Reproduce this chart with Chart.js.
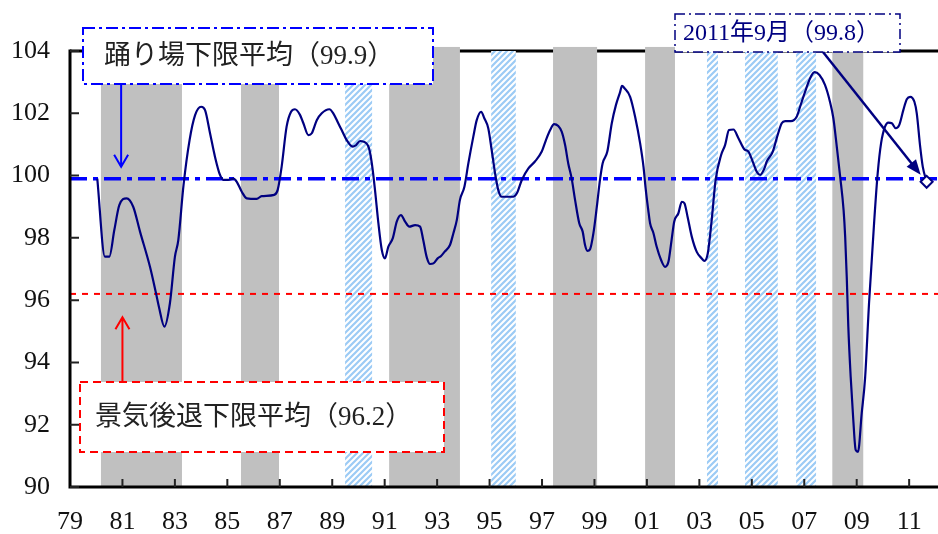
<!DOCTYPE html>
<html>
<head>
<meta charset="utf-8">
<script src="https://cdn.jsdelivr.net/npm/chart.js@4"></script>
<style>
  html, body { margin: 0; padding: 0; background: #fff; }
</style>
</head>
<body>
<canvas id="chart" width="938" height="534"></canvas>
<script>
// Composite index (CI), decimal year -> value
const dates = [
  1980.04, 1980.33, 1980.5, 1980.69, 1980.88, 1981.16, 1981.41, 1981.67, 1982.05, 1982.28,
  1982.39, 1982.6, 1982.81, 1983.0, 1983.13, 1983.33, 1983.56, 1983.77, 1984.0, 1984.15,
  1984.34, 1984.53, 1984.72, 1984.85, 1985.04, 1985.23, 1985.36, 1985.55, 1985.74, 1986.12,
  1986.31, 1986.79, 1986.92, 1987.07, 1987.26, 1987.43, 1987.58, 1987.77, 1987.9, 1988.09,
  1988.22, 1988.41, 1988.6, 1988.89, 1989.04, 1989.23, 1989.36, 1989.55, 1989.78, 1989.91,
  1990.06, 1990.19, 1990.4, 1990.51, 1990.63, 1990.76, 1990.89, 1991.01, 1991.14, 1991.31,
  1991.46, 1991.62, 1991.78, 1991.94, 1992.16, 1992.35, 1992.47, 1992.6, 1992.73, 1992.86,
  1993.02, 1993.15, 1993.28, 1993.49, 1993.62, 1993.75, 1993.87, 1994.04, 1994.19, 1994.38,
  1994.51, 1994.68, 1994.8, 1994.95, 1995.08, 1995.21, 1995.33, 1995.46, 1995.9, 1996.04,
  1996.23, 1996.48, 1996.73, 1996.99, 1997.15, 1997.31, 1997.46, 1997.62, 1997.75, 1997.88,
  1998.0, 1998.13, 1998.26, 1998.42, 1998.55, 1998.64, 1998.73, 1998.83, 1998.96, 1999.09,
  1999.21, 1999.31, 1999.49, 1999.66, 1999.82, 1999.98, 2000.05, 2000.15, 2000.36, 2000.55,
  2000.74, 2000.87, 2000.95, 2001.05, 2001.12, 2001.25, 2001.37, 2001.54, 2001.69, 2001.82,
  2001.94, 2002.04, 2002.2, 2002.33, 2002.43, 2002.55, 2002.71, 2002.9, 2003.09, 2003.19,
  2003.32, 2003.47, 2003.62, 2003.83, 2003.98, 2004.13, 2004.3, 2004.49, 2004.72, 2004.87,
  2005.06, 2005.19, 2005.32, 2005.48, 2005.57, 2005.8, 2005.95, 2006.14, 2006.27, 2006.49,
  2006.71, 2006.84, 2007.03, 2007.22, 2007.39, 2007.58, 2007.79, 2007.98, 2008.11, 2008.24,
  2008.37, 2008.5, 2008.56, 2008.62, 2008.68, 2008.77, 2008.87, 2008.96, 2009.05, 2009.19,
  2009.32, 2009.47, 2009.67, 2009.8, 2009.93, 2010.08, 2010.21, 2010.34, 2010.49, 2010.62,
  2010.78, 2010.91, 2011.04, 2011.2, 2011.29, 2011.42, 2011.52, 2011.667
];
const values = [
  99.9, 97.4, 97.4, 98.25, 99.05, 99.27, 99.0, 98.2, 97.07, 96.22,
  95.79, 95.15, 95.9, 97.39, 97.93, 99.7, 101.14, 101.94, 102.21, 102.1,
  101.36, 100.6, 100.02, 99.86, 99.86, 99.9, 99.8, 99.48, 99.27, 99.25,
  99.34, 99.38, 99.54, 100.28, 101.57, 102.05, 102.13, 101.95, 101.68, 101.3,
  101.36, 101.78, 102.0, 102.13, 102.0, 101.68, 101.46, 101.14, 100.93, 100.98,
  101.11, 101.09, 100.88, 100.39, 99.54, 98.47, 97.61, 97.34, 97.72, 97.99,
  98.52, 98.73, 98.52, 98.36, 98.41, 98.36, 97.93, 97.39, 97.16, 97.18,
  97.34, 97.42, 97.55, 97.77, 98.15, 98.57, 99.22, 99.64, 100.39, 101.25,
  101.78, 102.05, 101.84, 101.52, 100.82, 100.07, 99.54, 99.32, 99.32, 99.43,
  99.86, 100.23, 100.45, 100.77, 101.14, 101.46, 101.65, 101.59, 101.41, 100.98,
  100.39, 99.91, 99.22, 98.47, 98.2, 97.77, 97.58, 97.63, 98.15, 99.0,
  99.86, 100.39, 100.77, 101.68, 102.27, 102.69, 102.88, 102.8, 102.53, 101.89,
  101.04, 100.28, 99.6, 98.9, 98.47, 98.15, 97.72, 97.29, 97.07, 97.23,
  97.93, 98.52, 98.79, 99.16, 99.11, 98.68, 98.04, 97.55, 97.34, 97.26,
  97.5, 98.57, 99.86, 100.66, 100.98, 101.46, 101.48, 101.2, 100.84, 100.77,
  100.39, 100.12, 100.02, 100.23, 100.45, 100.77, 101.2, 101.68, 101.75, 101.75,
  101.89, 102.21, 102.69, 103.12, 103.32, 103.23, 102.91, 102.37, 101.84, 100.93,
  99.96, 98.89, 98.04, 96.75, 95.15, 93.54, 92.15, 91.19, 91.13, 92.36,
  93.5, 95.9, 98.57, 100.07, 101.04, 101.57, 101.7, 101.68, 101.52, 101.62,
  102.11, 102.45, 102.53, 102.37, 102.0, 100.93, 100.28, 99.8
];

// recessions (gray) and soft patches (hatched)
const recessionStart = [1980.18, 1985.52, 1991.17, 1997.42, 2000.93, 2008.07];
const recessionEnd   = [1983.27, 1986.97, 1993.87, 1999.1, 2002.07, 2009.25];
const softStart = [1989.49, 1995.06, 2003.29, 2004.74, 2006.69];
const softEnd   = [1990.52, 1996.0, 2003.71, 2005.99, 2007.45];

const softPatchAvg = 99.9;
const recessionAvg = 96.2;
const refLineX = [1979, 2012.1];

const tickYears  = [1979, 1981, 1983, 1985, 1987, 1989, 1991, 1993, 1995, 1997, 1999, 2001, 2003, 2005, 2007, 2009, 2011];
const tickLabels = ['79', '81', '83', '85', '87', '89', '91', '93', '95', '97', '99', '01', '03', '05', '07', '09', '11'];

const softLabel = '踊り場下限平均（99.9）';
const recessionLabel = '景気後退下限平均（96.2）';
const lastLabel = '2011年9月（99.8）';

const SERIF = "'Liberation Serif', 'Noto Sans CJK JP', serif";
const NAVY = '#000080';

function makeHatch(ctx) {
  const c = document.createElement('canvas');
  c.width = 6; c.height = 6;
  const g = c.getContext('2d');
  g.fillStyle = '#fff';
  g.fillRect(0, 0, 6, 6);
  g.strokeStyle = '#9ccbf5';
  g.lineWidth = 2.2;
  g.beginPath();
  g.moveTo(-3, 3); g.lineTo(3, -3);
  g.moveTo(0, 6); g.lineTo(6, 0);
  g.moveTo(3, 9); g.lineTo(9, 3);
  g.stroke();
  return ctx.createPattern(c, 'repeat');
}

function box(ctx, x1, y1, x2, y2, color, dash, lw) {
  ctx.save();
  ctx.fillStyle = '#fff';
  ctx.fillRect(x1, y1, x2 - x1, y2 - y1);
  ctx.setLineDash(dash);
  ctx.lineWidth = lw;
  ctx.strokeStyle = color;
  ctx.strokeRect(x1, y1, x2 - x1, y2 - y1);
  ctx.restore();
}

function openArrow(ctx, x, y1, y2, color) {
  const dir = y2 > y1 ? 1 : -1;
  ctx.save();
  ctx.strokeStyle = color;
  ctx.lineWidth = 2;
  ctx.beginPath();
  ctx.moveTo(x, y1); ctx.lineTo(x, y2);
  ctx.moveTo(x - 7, y2 - dir * 12); ctx.lineTo(x, y2); ctx.lineTo(x + 7, y2 - dir * 12);
  ctx.stroke();
  ctx.restore();
}

const backdrop = {
  id: 'backdrop',
  beforeDatasetsDraw(chart) {
    const {ctx, chartArea: a, scales: {x, y}} = chart;
    ctx.save();
    // top frame line
    ctx.strokeStyle = '#000';
    ctx.lineWidth = 3;
    ctx.beginPath();
    ctx.moveTo(a.left, a.top); ctx.lineTo(a.right, a.top);
    ctx.stroke();
    // recessions
    ctx.fillStyle = '#c0c0c0';
    const gTop = y.getPixelForValue(104.13);
    recessionStart.forEach((s, i) => {
      const x1 = x.getPixelForValue(s), x2 = x.getPixelForValue(recessionEnd[i]);
      ctx.fillRect(x1, gTop, x2 - x1, a.bottom - gTop);
    });
    // soft patches
    ctx.fillStyle = makeHatch(ctx);
    const hTop = y.getPixelForValue(104);
    softStart.forEach((s, i) => {
      const x1 = x.getPixelForValue(s), x2 = x.getPixelForValue(softEnd[i]);
      ctx.fillRect(x1, hTop, x2 - x1, a.bottom - hTop);
    });
    ctx.restore();
  },
  afterDatasetsDraw(chart) {
    const {ctx, chartArea: a, scales: {x, y}} = chart;
    ctx.save();
    // axes
    ctx.strokeStyle = '#000';
    ctx.lineWidth = 3;
    ctx.beginPath();
    ctx.moveTo(a.left, a.top - 1.5); ctx.lineTo(a.left, a.bottom); ctx.lineTo(a.right, a.bottom);
    ctx.stroke();
    // inner ticks
    ctx.lineWidth = 2;
    ctx.strokeStyle = '#222';
    ctx.beginPath();
    y.ticks.forEach(t => {
      const py = y.getPixelForValue(t.value);
      ctx.moveTo(a.left, py); ctx.lineTo(a.left + 9, py);
    });
    tickYears.slice(1).forEach(v => {
      const px = x.getPixelForValue(v);
      ctx.moveTo(px, a.bottom); ctx.lineTo(px, a.bottom - 8);
    });
    ctx.stroke();

    // soft patch label
    box(ctx, 83, 28, 433, 84, '#0000ff', [12, 4, 3, 4], 2);
    ctx.fillStyle = '#222';
    ctx.font = '27px ' + SERIF;
    ctx.textBaseline = 'middle';
    ctx.fillText(softLabel, 104, 57);
    openArrow(ctx, x.getPixelForValue(1980.95), 84, y.getPixelForValue(100.28), '#0000ff');

    // recession label
    box(ctx, 80, 382, 444, 452, '#ff0000', [8, 5], 2);
    ctx.fillStyle = '#222';
    ctx.fillText(recessionLabel, 95, 418);
    openArrow(ctx, x.getPixelForValue(1981.0), 382, y.getPixelForValue(95.45), '#ff0000');

    // latest value label
    box(ctx, 675, 14, 900, 52, NAVY, [10, 4, 2, 4], 1.5);
    ctx.fillStyle = NAVY;
    ctx.font = '24px ' + SERIF;
    ctx.fillText(lastLabel, 683, 34);
    const meta = chart.getDatasetMeta(0);
    const pt = meta.data[meta.data.length - 1];
    const x1 = 823, y1 = 52, x2 = pt.x - 6, y2 = pt.y - 7;
    const ang = Math.atan2(y2 - y1, x2 - x1);
    ctx.strokeStyle = NAVY;
    ctx.lineWidth = 2.5;
    ctx.beginPath();
    ctx.moveTo(x1, y1);
    ctx.lineTo(x2 - 10 * Math.cos(ang), y2 - 10 * Math.sin(ang));
    ctx.stroke();
    ctx.fillStyle = NAVY;
    ctx.beginPath();
    ctx.moveTo(x2, y2);
    ctx.lineTo(x2 - 15 * Math.cos(ang) + 6 * Math.sin(ang), y2 - 15 * Math.sin(ang) - 6 * Math.cos(ang));
    ctx.lineTo(x2 - 15 * Math.cos(ang) - 6 * Math.sin(ang), y2 - 15 * Math.sin(ang) + 6 * Math.cos(ang));
    ctx.closePath();
    ctx.fill();
    ctx.restore();
  }
};

const lastIdx = values.length - 1;

new Chart(document.getElementById('chart'), {
  type: 'line',
  data: {
    datasets: [
      {
        label: 'CI',
        data: dates.map((d, i) => ({x: d, y: values[i]})),
        borderColor: NAVY,
        borderWidth: 2.2,
        cubicInterpolationMode: 'monotone',
        pointRadius: ctx => ctx.dataIndex === lastIdx ? 6 : 0,
        pointStyle: 'rectRot',
        pointBackgroundColor: '#fff',
        pointBorderColor: NAVY,
        pointBorderWidth: 2,
        order: 0
      },
      {
        label: 'soft patch avg',
        data: refLineX.map(v => ({x: v, y: softPatchAvg})),
        borderColor: '#0000ff',
        borderWidth: 3.5,
        borderDash: [17, 6, 5, 6],
        pointRadius: 0,
        order: 1
      },
      {
        label: 'recession avg',
        data: refLineX.map(v => ({x: v, y: recessionAvg})),
        borderColor: '#ff0000',
        borderWidth: 2,
        borderDash: [6, 6],
        pointRadius: 0,
        order: 2
      }
    ]
  },
  options: {
    responsive: false,
    animation: false,
    layout: { autoPadding: false, padding: { top: 51, left: 0, right: 0, bottom: 0 } },
    plugins: { legend: { display: false }, tooltip: { enabled: false } },
    scales: {
      x: {
        type: 'linear',
        min: 1979,
        max: 2012.1,
        grid: { display: false, drawTicks: false },
        border: { display: false },
        afterBuildTicks: s => { s.ticks = tickYears.map(v => ({value: v})); },
        afterFit: s => { s.height = 47; s.paddingLeft = 0; s.paddingRight = 0; },
        ticks: {
          autoSkip: false,
          maxRotation: 0,
          padding: 20,
          color: '#111',
          font: { family: SERIF, size: 26 },
          callback: (v, i) => tickLabels[i]
        }
      },
      y: {
        min: 90,
        max: 104,
        grid: { display: false, drawTicks: false },
        border: { display: false },
        afterFit: s => { s.width = 70; s.paddingTop = 0; s.paddingBottom = 0; },
        ticks: {
          stepSize: 2,
          padding: 20,
          color: '#111',
          font: { family: SERIF, size: 26 }
        }
      }
    }
  },
  plugins: [backdrop]
});
</script>
</body>
</html>
